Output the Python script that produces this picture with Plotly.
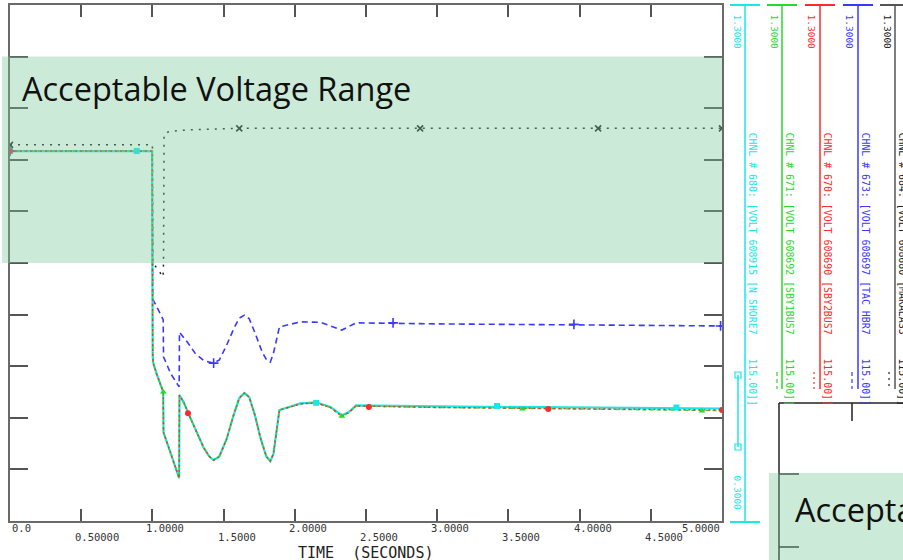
import plotly.graph_objects as go

# ---------------- data ----------------
t_low = [0, 0.998, 1.002, 1.006, 1.03, 1.06, 1.076, 1.078, 1.188, 1.19, 1.22, 1.252, 1.30, 1.36,
         1.40, 1.43, 1.47, 1.52, 1.57, 1.61, 1.646, 1.68, 1.72, 1.76, 1.80, 1.828, 1.85, 1.892,
         2.04, 2.15, 2.25, 2.33, 2.38, 2.43, 3.0, 4.0, 5.0]
v_680 = [1.017, 1.017, 0.62, 0.606, 0.585, 0.56, 0.55, 0.472, 0.383, 0.544, 0.530, 0.509, 0.478, 0.442,
         0.425, 0.418, 0.425, 0.458, 0.505, 0.538, 0.548, 0.540, 0.505, 0.460, 0.425, 0.416, 0.430, 0.515,
         0.528, 0.530, 0.521, 0.505, 0.511, 0.524, 0.522, 0.520, 0.518]
v_671 = [1.017, 1.017, 0.62, 0.606, 0.585, 0.56, 0.55, 0.472, 0.383, 0.544, 0.530, 0.509, 0.478, 0.442,
         0.425, 0.418, 0.425, 0.458, 0.505, 0.538, 0.548, 0.540, 0.505, 0.460, 0.425, 0.416, 0.430, 0.515,
         0.527, 0.529, 0.520, 0.503, 0.510, 0.523, 0.520, 0.517, 0.514]
v_670 = [1.017, 1.017, 0.62, 0.606, 0.585, 0.56, 0.55, 0.472, 0.383, 0.544, 0.530, 0.509, 0.478, 0.442,
         0.425, 0.418, 0.425, 0.458, 0.505, 0.538, 0.548, 0.540, 0.505, 0.460, 0.425, 0.416, 0.430, 0.515,
         0.527, 0.529, 0.520, 0.503, 0.510, 0.523, 0.520, 0.517, 0.515]

t_673 = [0, 0.998, 1.002, 1.006, 1.04, 1.076, 1.078, 1.13, 1.188, 1.19, 1.25, 1.30, 1.36, 1.428,
         1.47, 1.52, 1.57, 1.61, 1.646, 1.68, 1.72, 1.77, 1.80, 1.828, 1.85, 1.892, 2.04, 2.18,
         2.33, 2.43, 3.0, 4.0, 5.0]
v_673 = [1.017, 1.017, 0.74, 0.728, 0.71, 0.69, 0.618, 0.585, 0.560, 0.666, 0.645, 0.625, 0.611, 0.606,
         0.612, 0.640, 0.672, 0.693, 0.699, 0.692, 0.665, 0.628, 0.613, 0.608, 0.625, 0.676, 0.686, 0.685,
         0.670, 0.684, 0.682, 0.680, 0.678]

t_684 = [0, 1.0, 1.005, 1.03, 1.075, 1.078, 1.082, 1.12, 1.25, 1.6, 3.0, 5.0]
v_684 = [1.029, 1.029, 0.80, 0.79, 0.773, 0.80, 1.050, 1.055, 1.058, 1.061, 1.061, 1.061]

mk_684_t = [0.0, 1.61, 2.88, 4.13, 5.0]
mk_684_v = [1.029, 1.061, 1.061, 1.061, 1.061]
mk_673_t = [0.0, 1.43, 2.69, 3.96, 4.99]
mk_673_v = [1.017, 0.606, 0.684, 0.681, 0.678]
mk_680_t = [0.0, 0.89, 2.15, 3.42, 4.68]
mk_680_v = [1.017, 1.017, 0.529, 0.523, 0.520]
mk_670_t = [0.0, 1.25, 2.52, 3.78, 5.0]
mk_670_v = [1.017, 0.509, 0.521, 0.517, 0.515]
mk_671_t = [0.0, 1.077, 2.33, 3.60, 4.86]
mk_671_v = [1.017, 0.55, 0.503, 0.517, 0.513]

x_tick_vals = [0.0, 0.5, 1.0, 1.5, 2.0, 2.5, 3.0, 3.5, 4.0, 4.5, 5.0]
x_tick_text = ["0.0", "0.50000", "1.0000", "1.5000", "2.0000", "2.5000",
               "3.0000", "3.5000", "4.0000", "4.5000", "5.0000"]
y_tick_vals = [0.4, 0.5, 0.6, 0.7, 0.8, 0.9, 1.0, 1.1, 1.2]

range_low, range_high = 0.8, 1.2

chan_labels = [
    "CHNL # 680: [VOLT 608915 [N_SHORE7    115.00]]",
    "CHNL # 671: [VOLT 608692 [SBY1BUS7    115.00]]",
    "CHNL # 670: [VOLT 608690 [SBY2BUS7    115.00]]",
    "CHNL # 673: [VOLT 608697 [TAC HBR7    115.00]]",
    "CHNL # 684: [VOLT 608680 [MAKALAS3    115.00]]",
]
chan_max = ["1.3000"] * 5
chan_min = "0.3000"

CYAN, GREEN, RED, BLUE, BLACK = "#18e8e8", "#2ad82a", "#ff2a2a", "#3838ff", "#222222"

# ---------------- figure ----------------
W, H = 903, 560
def PX(x):
    return x / W
def PY(y):
    return 1 - y / H

fig = go.Figure()

fig.add_trace(go.Scatter(x=t_684, y=v_684, mode="lines",
                         line=dict(color=BLACK, width=1.5, dash="2px,6px")))
fig.add_trace(go.Scatter(x=t_673, y=v_673, mode="lines",
                         line=dict(color=BLUE, width=1.6, dash="6px,4px")))
fig.add_trace(go.Scatter(x=t_low, y=v_680, mode="lines",
                         line=dict(color=CYAN, width=2.2)))
fig.add_trace(go.Scatter(x=t_low, y=v_671, mode="lines",
                         line=dict(color=GREEN, width=1.4, dash="4px,3px")))
fig.add_trace(go.Scatter(x=t_low, y=v_670, mode="lines",
                         line=dict(color=RED, width=1.4, dash="2px,3px")))

fig.add_trace(go.Scatter(x=mk_684_t, y=mk_684_v, mode="markers",
                         marker=dict(symbol="x-thin", size=6, line=dict(color=BLACK, width=1.6))))
fig.add_trace(go.Scatter(x=mk_673_t, y=mk_673_v, mode="markers",
                         marker=dict(symbol="cross-thin", size=7, line=dict(color=BLUE, width=1.6))))
fig.add_trace(go.Scatter(x=mk_680_t, y=mk_680_v, mode="markers",
                         marker=dict(symbol="square", size=6, color=CYAN)))
fig.add_trace(go.Scatter(x=mk_671_t, y=mk_671_v, mode="markers",
                         marker=dict(symbol="triangle-up", size=6, color=GREEN)))
fig.add_trace(go.Scatter(x=mk_670_t, y=mk_670_v, mode="markers",
                         marker=dict(symbol="circle", size=6, color=RED)))

shapes = []
annotations = []

# acceptable range band (semi transparent overlay)
shapes.append(dict(type="rect", xref="paper", yref="y", x0=PX(2), x1=PX(722),
                   y0=range_low, y1=range_high, fillcolor="rgb(120,200,152)",
                   opacity=0.38, line=dict(width=0), layer="above"))
annotations.append(dict(text="Acceptable Voltage Range", xref="paper", yref="paper",
                        x=PX(20), y=PY(88), xanchor="left", yanchor="middle", showarrow=False,
                        font=dict(family="Open Sans", size=32.5, color="#111111")))

# x tick labels, staggered
for i, (v, s) in enumerate(zip(x_tick_vals, x_tick_text)):
    upper = (i % 2 == 0)
    if v == 0.0:
        xa, sh = "left", 0
    elif v == 5.0:
        xa, sh = "right", 0
    else:
        xa, sh = "left", -8
    annotations.append(dict(text=s, xref="x", yref="paper", x=v, xshift=sh,
                            y=PY(528 if upper else 537), xanchor=xa, yanchor="middle",
                            showarrow=False,
                            font=dict(family="DejaVu Sans Mono", size=10.5, color="#333333")))
annotations.append(dict(text="TIME  (SECONDS)", xref="paper", yref="paper", x=PX(296), y=PY(553),
                        xanchor="left", yanchor="middle", showarrow=False,
                        font=dict(family="DejaVu Sans Mono", size=15, color="#222222")))

# channel legend columns
cols = [
    # color, line x, max label x, channel text x, sample x, line bottom
    (CYAN, 745, 737, 752, 738, 522),
    (GREEN, 782, 774, 789, 777, 390),
    (RED, 820, 811, 827, 814, 390),
    (BLUE, 858, 849, 865, 852, 390),
    ("#555555", 895, 887, 902, 889, 390),
]
txtcols = [CYAN, GREEN, RED, BLUE, BLACK]
for k, (c, lx, mx, cx, sx, lb) in enumerate(cols):
    shapes.append(dict(type="line", xref="paper", yref="paper", x0=PX(lx), x1=PX(lx),
                       y0=PY(5), y1=PY(lb), line=dict(color=c, width=1.5)))
    shapes.append(dict(type="line", xref="paper", yref="paper", x0=PX(lx - 15), x1=PX(lx + 15),
                       y0=PY(5), y1=PY(5), line=dict(color=c, width=2)))
    annotations.append(dict(text=chan_max[k], xref="paper", yref="paper", x=PX(mx), y=PY(12),
                            xanchor="center", yanchor="top", textangle=90, showarrow=False,
                            font=dict(family="DejaVu Sans Mono", size=9.5, color=txtcols[k])))
    annotations.append(dict(text=chan_labels[k].replace(" ", "&nbsp;"), xref="paper", yref="paper",
                            x=PX(cx), y=PY(130),
                            xanchor="center", yanchor="top", textangle=90, showarrow=False,
                            font=dict(family="DejaVu Sans Mono", size=9.9, color=txtcols[k])))

# cyan bottom scale
shapes.append(dict(type="line", xref="paper", yref="paper", x0=PX(730), x1=PX(760),
                   y0=PY(522), y1=PY(522), line=dict(color=CYAN, width=2)))
annotations.append(dict(text=chan_min, xref="paper", yref="paper", x=PX(737), y=PY(473),
                        xanchor="center", yanchor="top", textangle=90, showarrow=False,
                        font=dict(family="DejaVu Sans Mono", size=9.5, color=CYAN)))
# legend samples
shapes.append(dict(type="line", xref="paper", yref="paper", x0=PX(738), x1=PX(738),
                   y0=PY(375), y1=PY(447), line=dict(color=CYAN, width=1.5)))
for yy in (375, 447):
    shapes.append(dict(type="rect", xref="paper", yref="paper", x0=PX(735), x1=PX(741),
                       y0=PY(yy - 3), y1=PY(yy + 3), line=dict(color=CYAN, width=1.2)))
samples = [(GREEN, 777, "4px,3px"), (RED, 814, "2px,3px"),
           (BLUE, 852, "4px,3px"), (BLACK, 889, "2px,4px")]
for c, sx, dsh in samples:
    shapes.append(dict(type="line", xref="paper", yref="paper", x0=PX(sx), x1=PX(sx),
                       y0=PY(372), y1=PY(392), line=dict(color=c, width=1.2, dash=dsh)))

# second (overlapping) picture in the bottom right corner
shapes.append(dict(type="rect", xref="paper", yref="paper", x0=PX(766), x1=PX(905),
                   y0=PY(389), y1=PY(562), fillcolor="white", line=dict(width=0), layer="above"))
shapes.append(dict(type="line", xref="paper", yref="paper", x0=PX(779), x1=PX(779),
                   y0=PY(403), y1=PY(562), line=dict(color="#222222", width=1.5), layer="above"))
shapes.append(dict(type="line", xref="paper", yref="paper", x0=PX(779), x1=PX(905),
                   y0=PY(403), y1=PY(403), line=dict(color="#222222", width=1.5), layer="above"))
shapes.append(dict(type="line", xref="paper", yref="paper", x0=PX(852), x1=PX(852),
                   y0=PY(403), y1=PY(421), line=dict(color="#222222", width=1.5), layer="above"))
for yy in (474, 547):
    shapes.append(dict(type="line", xref="paper", yref="paper", x0=PX(779), x1=PX(799),
                       y0=PY(yy), y1=PY(yy), line=dict(color="#222222", width=1.5), layer="above"))
shapes.append(dict(type="rect", xref="paper", yref="paper", x0=PX(769), x1=PX(905),
                   y0=PY(473), y1=PY(562), fillcolor="rgb(120,200,152)", opacity=0.38,
                   line=dict(width=0), layer="above"))
annotations.append(dict(text="Acceptable Voltage Range", xref="paper", yref="paper",
                        x=PX(793), y=PY(509), xanchor="left", yanchor="middle", showarrow=False,
                        font=dict(family="Open Sans", size=32.5, color="#111111")))

axis_common = dict(showline=True, linecolor="#6a6a6a", linewidth=2, mirror="ticks",
                   ticks="inside", tickcolor="#555555", tickwidth=2, showgrid=False,
                   zeroline=False, showticklabels=False)

fig.update_layout(
    width=W, height=H, margin=dict(l=0, r=0, t=0, b=0),
    paper_bgcolor="white", plot_bgcolor="white", showlegend=False,
    xaxis=dict(domain=[PX(10), PX(722)], range=[0, 5], tickvals=x_tick_vals[1:-1],
               ticklen=12, **axis_common),
    yaxis=dict(domain=[PY(521), PY(5)], range=[0.3, 1.3], tickvals=y_tick_vals,
               ticklen=18, **axis_common),
    shapes=shapes, annotations=annotations,
)

fig.write_html("out.html")
